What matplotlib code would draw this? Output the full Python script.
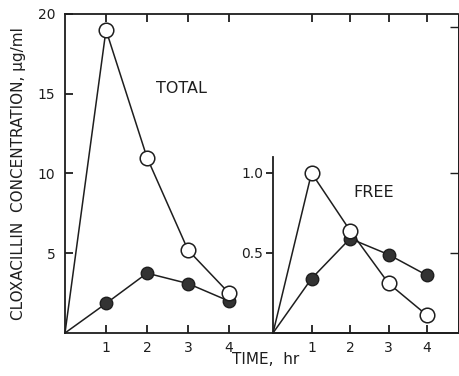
import matplotlib
matplotlib.use("Agg")
import matplotlib.pyplot as plt

# 数据
hours = [0, 1, 2, 3, 4]
total_open = [0, 19.0, 11.0, 5.2, 2.5]
total_filled = [0, 1.85, 3.75, 3.1, 2.0]
free_open = [0, 1.0, 0.64, 0.31, 0.11]
free_filled = [0, 0.34, 0.59, 0.49, 0.36]
x_ticks = [1, 2, 3, 4]
total_yticks = [5, 10, 15, 20]
free_yticks = [0.5, 1.0]
free_ylabels = ["0.5", "1.0"]

ink = "#1e1e1e"
dark = "#333333"
plt.rcParams["font.family"] = ["DejaVu Sans"]
plt.rcParams["font.size"] = 10

fig = plt.figure(figsize=(4.6, 3.76), dpi=100)


def draw_series(a, ys_filled, ys_open):
    # 先画实心, 再画空心 (空心压在上面)
    a.plot(hours, ys_filled, "-", color=ink, lw=1.1, zorder=2, clip_on=False)
    a.plot(hours[1:], ys_filled[1:], "o", ms=9, mfc=dark, mec=ink, mew=1.0,
           zorder=3, clip_on=False)
    a.plot(hours, ys_open, "-", color=ink, lw=1.1, zorder=2, clip_on=False)
    a.plot(hours[1:], ys_open[1:], "o", ms=10.5, mfc="white", mec=ink,
           mew=1.1, zorder=4, clip_on=False)


# 主图 (TOTAL)
main_l, main_b, main_w, main_h = 0.1413, 0.1144, 0.8543, 0.8484
main_xmax = 9.585
ax = fig.add_axes([main_l, main_b, main_w, main_h])
draw_series(ax, total_filled, total_open)
ax.set_xlim(0, main_xmax)
ax.set_ylim(0, 20)
ax.set_xticks(x_ticks)
ax.set_yticks(total_yticks)
ax.tick_params(direction="in", length=6, width=1.3, colors=ink, pad=7,
               top=True, labelsize=10)
ax.tick_params(axis="x", pad=6)
for s in ax.spines.values():
    s.set_linewidth(1.3)
    s.set_color(ink)
ax.spines["right"].set_linewidth(0.6)
ax.set_ylabel("CLOXACILLIN  CONCENTRATION, \u03bcg/ml", fontsize=11, color=ink)
ax.yaxis.set_label_coords(-0.098, 0.5)
ax.set_xlabel("TIME,  hr", fontsize=11, color=ink)
ax.xaxis.set_label_coords(0.51, -0.06)
ax.text(2.83, 15.3, "TOTAL", fontsize=11.5, color=ink, ha="center", va="center")

# 右图 (FREE)
ins_l, ins_b, ins_w = 0.5935, 0.1144, 0.402
ins_xmax = 4.8
ins = fig.add_axes([ins_l, ins_b, ins_w, 0.4681])
ins.patch.set_alpha(0)
draw_series(ins, free_filled, free_open)
ins.set_xlim(0, ins_xmax)
ins.set_ylim(0, 1.1)
ins.set_xticks(x_ticks)
ins.set_yticks(free_yticks)
ins.set_yticklabels(free_ylabels)
ins.tick_params(axis="x", direction="in", length=6, width=1.3, colors=ink,
                pad=6, labelsize=10)
ins.tick_params(axis="y", direction="out", length=5, width=1.3, colors=ink,
                pad=2, labelsize=10)
ins.spines["top"].set_visible(False)
ins.spines["right"].set_visible(False)
for side in ["left", "bottom"]:
    ins.spines[side].set_linewidth(1.3)
    ins.spines[side].set_color(ink)
ins.text(2.62, 0.875, "FREE", fontsize=11.5, color=ink, ha="center", va="center")

# 顶部刻度也标出右图的时间位置
top_minor = [((ins_l + ins_w * x / ins_xmax) - main_l) / main_w * main_xmax
             for x in x_ticks]
ax.set_xticks(top_minor, minor=True)
ax.tick_params(axis="x", which="minor", bottom=False, top=True,
               direction="in", length=6, width=1.3, colors=ink)
# 右边框上的刻度
right_ax = ax.secondary_yaxis("right")
right_ax.set_yticks([5, 10, 19.2])
right_ax.set_yticklabels([])
right_ax.tick_params(direction="in", length=6, width=1.0, colors=ink)
right_ax.spines["right"].set_linewidth(0.6)

fig.savefig("out.png", dpi=100)
